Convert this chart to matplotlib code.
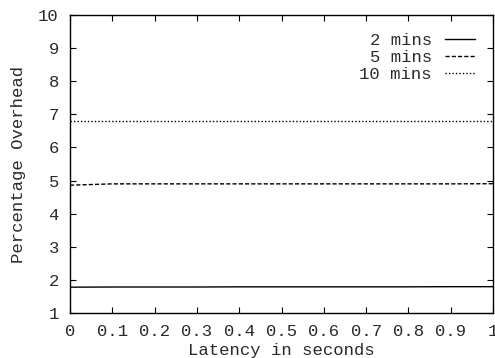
import matplotlib
matplotlib.use("Agg")
import matplotlib.pyplot as plt

latency = [0, 0.1, 0.2, 0.3, 0.4, 0.5, 0.6, 0.7, 0.8, 0.9, 1.0]
two_mins = [1.78, 1.785, 1.785, 1.785, 1.79, 1.79, 1.79, 1.79, 1.79, 1.795, 1.795]
five_mins = [4.86, 4.9, 4.9, 4.9, 4.9, 4.9, 4.9, 4.9, 4.9, 4.9, 4.905]
ten_mins = [6.8, 6.8, 6.8, 6.8, 6.8, 6.8, 6.8, 6.8, 6.8, 6.8, 6.8]
xticks = [0, 0.1, 0.2, 0.3, 0.4, 0.5, 0.6, 0.7, 0.8, 0.9, 1]
xticklabels = ["0", "0.1", "0.2", "0.3", "0.4", "0.5", "0.6", "0.7", "0.8", "0.9", "1"]
yticks = [1, 2, 3, 4, 5, 6, 7, 8, 9, 10]

FS = 12.4
TC = '#2a2a2a'
plt.rcParams['font.family'] = ['Liberation Mono', 'DejaVu Sans Mono']
plt.rcParams['font.size'] = FS

fig = plt.figure(figsize=(4.95, 3.58), dpi=100)
ax = fig.add_axes([70/495, 1 - 313/358, (493-70)/495, (313-15)/358])

ax.plot(latency, two_mins, color='black', lw=1.0, linestyle='-', label='2 mins')
ax.plot(latency, five_mins, color='black', lw=1.0, linestyle=(0, (3, 1.5)), label='5 mins')
ax.plot(latency, ten_mins, color='black', lw=1.0, linestyle=(0, (1, 1.5)), label='10 mins')

ax.set_xlim(0, 1)
ax.set_ylim(1, 10)
ax.set_xticks(xticks)
ax.set_xticklabels(xticklabels)
ax.set_yticks(yticks)
ax.tick_params(direction='in', top=True, right=True, length=4, width=0.8,
               labelsize=FS, labelcolor=TC, color='black')
ax.tick_params(axis='x', pad=8)
ax.tick_params(axis='y', pad=8)
for s in ax.spines.values():
    s.set_linewidth(1.0)

ax.set_xlabel('Latency in seconds', labelpad=3, color=TC)
ax.set_ylabel('Percentage Overhead', labelpad=9, color=TC)

leg = ax.legend(loc='upper right', markerfirst=False, frameon=False, handlelength=1.75,
                handletextpad=0.75, labelspacing=0.1, borderaxespad=0.65, borderpad=0.4,
                fontsize=FS)
for t in leg.get_texts():
    t.set_ha('right')
    t.set_color(TC)
leg._legend_box.align = 'right'

fig.savefig('out.png', dpi=100)
